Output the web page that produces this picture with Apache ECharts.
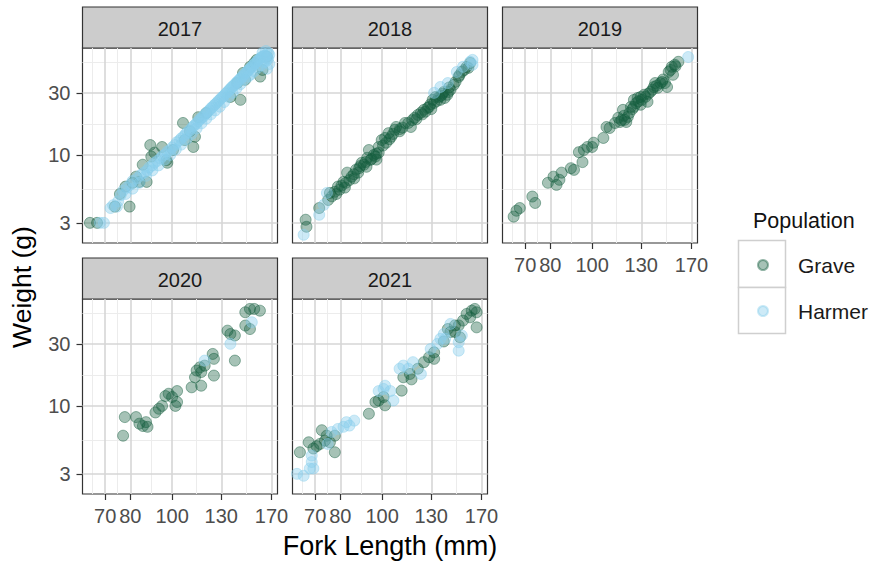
<!DOCTYPE html>
<html>
<head>
<meta charset="utf-8">
<script src="https://cdn.jsdelivr.net/npm/echarts@6/dist/echarts.min.js"></script>
<style>
html,body{margin:0;padding:0;background:#fff;}
#chart{width:873px;height:565px;}
</style>
</head>
<body>
<div id="chart"></div>
<script>
// ---- data: [fork length (mm), weight (g)] ----
const years = ['2017', '2018', '2019', '2020', '2021'];
const populations = ['Grave', 'Harmer'];
const xTicks = [70, 80, 100, 130, 170];
const xMinorTicks = [65.48, 74.83, 89.44, 114.02, 148.66];
const yTicks = [3, 10, 30];
const yMinorTicks = [5.477, 17.32, 51.96];
const xLimits = [62, 175.5];
const yLimits = [2.1, 66.4];

const grave2017 = [[64.5,3.0],[67,3.0],[73.7,4.0],[79.7,4.0],[75.7,5.0],[78,5.7],[81,6.1],[82.5,6.8],[85.5,8.4],[87.3,6.2],[84,6.2],[89,11.9],[89.5,9.7],[91,10.4],[94.8,11.5],[97,9.1],[97.5,8.7],[100.5,10.9],[106,17.6],[107,13.0],[112,11.5],[113,13.8],[110,15.2],[115,19.5],[120,21],[144,26.5],[136.5,27.9],[141.6,35.7],[147.6,37.8],[146,42.7],[151.6,47.6],[157,53.8],[155,51],[162,45],[160,40],[165.6,57]];
const harmer2017 = [[68,3.0],[69.5,3.0],[72,3.9],[73,4.1],[74.5,4.0],[76,4.9],[77,5.3],[78.5,5.6],[80,5.9],[81,6.3],[83,6.6],[84.5,7.0],[86,7.3],[87.5,7.6],[88.5,8.0],[90,8.3],[91,8.7],[92.5,9.0],[94,9.4],[95,9.8],[96.5,10.1],[97.5,10.6],[99,10.9],[100,11.4],[101.5,11.9],[102.5,12.5],[104,12.9],[105,13.4],[106.5,13.9],[107.5,14.5],[108.5,15.0],[110,15.4],[111,16.1],[112,16.6],[113,17.0],[114,17.6],[115,18.1],[116,18.8],[117,19.3],[118,19.6],[119,20.4],[120,20.9],[121,21.5],[122,22.0],[123,22.8],[124,23.3],[125,24.0],[126,24.6],[127,25.2],[128,26.0],[129,26.5],[130,27.4],[131,28.0],[132,28.6],[133,29.5],[134,30.2],[135,31.0],[136,31.8],[137,32.7],[138,33.5],[139,34.2],[140,35.0],[141,36.0],[142,36.8],[143,37.6],[144,38.6],[145,39.5],[146,40.4],[147,41.5],[148,42.4],[149,43.4],[150,44.5],[151,45.4],[152,46.5],[153,47.6],[154,48.6],[155,49.8],[156,51.0],[157,52.0],[158,53.0],[159,54.2],[160,55.3],[161,56.2],[162,57.0],[163,57.5],[164,58.0],[165,57.5],[166,56.0],[167,55.0],[165,52.5],[163,51.5],[161,49],[158,47],[155,44],[152,41.5],[150,40],[147,38],[144,35],[141,32.5],[138,30],[135,28],[132,25.5],[129,23.5],[126,22],[123,20.5],[120,19],[117,17.5],[114,16],[111,14.5],[108,13.2],[105,12],[102,11],[99,10],[96,9.2],[93,8.3],[90,7.6],[87,6.9],[84,6.1],[81,5.5],[78,5.0],[75,4.4],[168,59],[167,61],[165,63],[162,61],[168,50],[166,46]];

const grave2018 = [[66.5,3.17],[66.8,2.8],[71.5,3.9],[75,4.5],[75.7,5.1],[79.7,5.4],[82.5,6.1],[83,7.3],[86.2,6.6],[88.5,7.9],[89.7,8.7],[93.2,10.9],[94,9.15],[96.5,9.7],[98.2,10.4],[99.8,13],[102.2,12.4],[105,13.8],[107.8,16.4],[109.8,15.2],[115,17.6],[116.6,16.4],[121,20.3],[125,22.2],[128.5,23.4],[131,26.5],[133,27.9],[136.5,26.5],[139,30.5],[141.6,29],[150.5,39.8],[153,43.5],[160,51],[158.5,46.7],[77.7,5.2],[79,5.7],[81.4,6.2],[85,6.8],[87,7.7],[90.8,8.4],[92.4,9.5],[95.7,10],[98.2,11.5],[101.6,13.5],[103.5,14.7],[107,15.6],[113,17.6],[119,19.3],[123,21.1],[127.5,23],[132,25.1],[135.5,27.9],[139.6,27.4],[144,31.7],[146.6,34.6],[76.5,4.8],[78.3,5.0],[80.5,5.8],[82,5.6],[84,6.4],[86,7.1],[88,7.3],[89,8.2],[91.5,8.8],[92,8.1],[94.5,9.3],[97,9.2],[97,10.2],[100.5,11.8],[104,13.2],[106,14.5],[110,15.8],[111.5,16.2],[117.5,18.5],[120,18.8],[124,20.5],[126,21.5],[129.5,24.5],[130,22.5],[134,26],[137,28.5],[138,29.5],[142.5,30.5],[143,33],[148,36.5],[151,41],[155,45],[157,47.5]];
const harmer2018 = [[65.8,2.43],[71.5,3.46],[74.5,5.1],[73.3,4.13],[132,30],[136.5,33.3],[142,35.7],[149,43.5],[154,47.6],[160,52],[162,53.8],[162,49.3]];

const grave2019 = [[65.8,3.35],[66.8,3.72],[68,3.9],[72.7,4.78],[73.8,4.27],[79,6.1],[81.4,6.8],[82.7,5.88],[84,6.43],[85,7.3],[89.3,7.9],[90.8,7.67],[95,8.8],[95.7,10.9],[97.5,11.5],[100.8,12.4],[106.2,13.5],[108,16.4],[113,17.6],[116,17.9],[117.9,22.2],[115,19.3],[119,18.6],[121,19.6],[123,23.4],[125,26.5],[127.5,27.4],[129.6,24.3],[132,29],[134.4,25.6],[138,31.7],[140,35.7],[142,32.8],[145.3,36.5],[149.2,33.3],[150.5,43.5],[153,47.6],[155.5,49.3],[158.5,52],[154,41.3],[147.5,35.7],[125,23.4],[129.6,27.9],[139,33.3],[144,35.7],[120,17.9],[109.8,16.1],[100,11.5],[93.2,10.5],[117,18.5],[118.5,20],[122,21],[124,22.5],[126.5,25],[128,25.8],[130.5,26.5],[133,28],[135,29.5],[136.5,30.5],[141,34],[146,38],[152,45],[156,48]];
const harmer2019 = [[167,56.6]];

const grave2020 = [[77.7,8.2],[77,5.9],[82.5,8.2],[84,7.3],[85.6,7.0],[87,7.5],[87.7,6.9],[91.5,8.9],[93.2,9.5],[94.8,10],[96.5,11.9],[98.2,12.4],[100,11.7],[102.7,13],[102.7,10.7],[101.8,10],[111,13.9],[116.8,14.3],[113,16.6],[114,18.7],[116,19.8],[119,20.4],[124.2,25.1],[125,23],[125,17.1],[134.4,37.9],[136.5,35.7],[139.8,34.8],[139.8,22.3],[147.8,52.5],[151.5,55.7],[155,55.7],[159.8,54],[147.8,41.5],[151.5,39],[116.8,18.2]];
const harmer2020 = [[119,22.3],[136.5,30],[153,44]];

const grave2021 = [[64.5,4.4],[67.6,5.25],[70.5,4.9],[72.5,6.5],[74.4,5.9],[75.7,5.25],[77.7,4.4],[77.7,5.9],[71.8,5.1],[69.3,4.7],[73.7,5.4],[93.2,8.7],[96.5,10.7],[98.2,11.0],[101.6,10.1],[100.8,11.7],[111,13.1],[112,16.6],[116,17.6],[121,19.3],[125,21.7],[128.5,23.7],[132,25.8],[139,31.3],[142,39],[144,37],[147.5,37],[150.5,41.6],[151.5,33.7],[154,45.3],[157,51],[161.3,54],[164,55.7],[165.6,52.5],[165.6,40.2],[160,48],[147.5,41.6],[132,23],[117,16]];
const harmer2021 = [[63.5,3.0],[65.8,2.9],[68,3.3],[68.7,3.7],[68.7,4.15],[69.3,3.3],[79,6.65],[81.4,6.9],[82.7,7.5],[84,7.05],[86.2,7.7],[76.4,6.3],[74.8,5.1],[98.2,13],[100.8,13.5],[101.6,14.3],[104.5,13],[106.2,11],[109.8,19.3],[112,20.4],[115,19.3],[117.9,21.7],[123,17.6],[129.6,27.4],[134.4,30],[136.5,32.8],[140,32.8],[144,42.7],[150.5,26.6],[150.5,30.9],[139,35.7],[153,34.8]];

const dataByYear = {
  '2017': [grave2017, harmer2017],
  '2018': [grave2018, harmer2018],
  '2019': [grave2019, harmer2019],
  '2020': [grave2020, harmer2020],
  '2021': [grave2021, harmer2021]
};

// ---- layout / style ----
const FONT = "'Liberation Sans', Arial, Helvetica, sans-serif";
const PW = 195, PH = 195, STRIP = 41;
const layout = {
  '2017': {left: 82.5, top: 48, xLab: false, yLab: true},
  '2018': {left: 292.5, top: 48, xLab: false, yLab: false},
  '2019': {left: 502.5, top: 48, xLab: true, yLab: false},
  '2020': {left: 82.5, top: 299, xLab: true, yLab: true},
  '2021': {left: 292.5, top: 299, xLab: true, yLab: false}
};
const popStyle = {
  'Grave': {fill: 'rgba(21,94,63,0.38)', stroke: 'rgba(21,94,63,0.45)'},
  'Harmer': {fill: 'rgba(135,206,235,0.42)', stroke: 'rgba(135,206,235,0.45)'}
};

const grids = [], xAxes = [], yAxes = [], series = [], graphics = [];

years.forEach(function (yr, i) {
  const L = layout[yr];
  grids.push({
    left: L.left, top: L.top, width: PW, height: PH,
    show: true, backgroundColor: '#ffffff', borderColor: '#333333', borderWidth: 1.2,
    containLabel: false
  });
  // major x axis
  xAxes.push({
    type: 'log', logBase: 10, gridIndex: i, position: 'bottom',
    min: xLimits[0], max: xLimits[1],
    axisLine: {show: false},
    axisTick: {show: L.xLab, length: 6, customValues: xTicks, lineStyle: {color: '#333333', width: 1.2}},
    axisLabel: {show: L.xLab, customValues: xTicks, color: '#4d4d4d', fontSize: 20, fontFamily: FONT, margin: 12, hideOverlap: false},
    splitLine: {show: true, lineStyle: {color: '#d6d6d6', width: 1.6}},
    minorTick: {show: false}, minorSplitLine: {show: false}, z: 1
  });
  // minor x axis (grid lines only)
  xAxes.push({
    type: 'log', logBase: 10, gridIndex: i, position: 'top',
    min: xLimits[0], max: xLimits[1],
    axisLine: {show: false},
    axisTick: {show: false, customValues: xMinorTicks},
    axisLabel: {show: false, customValues: xMinorTicks},
    splitLine: {show: true, lineStyle: {color: '#ececec', width: 1}},
    z: 0
  });
  yAxes.push({
    type: 'log', logBase: 10, gridIndex: i, position: 'left',
    min: yLimits[0], max: yLimits[1],
    axisLine: {show: false},
    axisTick: {show: L.yLab, length: 6, customValues: yTicks, lineStyle: {color: '#333333', width: 1.2}},
    axisLabel: {show: L.yLab, customValues: yTicks, color: '#4d4d4d', fontSize: 20, fontFamily: FONT, margin: 12},
    splitLine: {show: true, lineStyle: {color: '#d6d6d6', width: 1.6}},
    minorTick: {show: false}, minorSplitLine: {show: false}, z: 1
  });
  yAxes.push({
    type: 'log', logBase: 10, gridIndex: i, position: 'right',
    min: yLimits[0], max: yLimits[1],
    axisLine: {show: false},
    axisTick: {show: false, customValues: yMinorTicks},
    axisLabel: {show: false, customValues: yMinorTicks},
    splitLine: {show: true, lineStyle: {color: '#ececec', width: 1}},
    z: 0
  });
  populations.forEach(function (pop, k) {
    series.push({
      type: 'scatter', name: pop,
      xAxisIndex: 2 * i, yAxisIndex: 2 * i,
      data: dataByYear[yr][k],
      symbol: 'circle', symbolSize: 11,
      itemStyle: {color: popStyle[pop].fill, borderColor: popStyle[pop].stroke, borderWidth: 1, opacity: 1},
      emphasis: {disabled: true},
      z: 3 + k
    });
  });
  // facet strip
  graphics.push({
    type: 'group', silent: true,
    children: [
      {type: 'rect', shape: {x: L.left, y: L.top - STRIP, width: PW, height: STRIP},
        style: {fill: '#cccccc', stroke: '#333333', lineWidth: 1.2}},
      {type: 'text', x: L.left + PW / 2, y: L.top - STRIP / 2 + 1,
        style: {text: yr, fontSize: 20, fontFamily: FONT, fill: '#1a1a1a', align: 'center', verticalAlign: 'middle'}}
    ]
  });
});

// axis titles
graphics.push({type: 'text', silent: true, x: 390, y: 546,
  style: {text: 'Fork Length (mm)', fontSize: 27, fontFamily: FONT, fill: '#000000', align: 'center', verticalAlign: 'middle'}});
graphics.push({type: 'text', silent: true, x: 22, y: 287, rotation: Math.PI / 2,
  style: {text: 'Weight (g)', fontSize: 26.5, fontFamily: FONT, fill: '#000000', align: 'center', verticalAlign: 'middle'}});
// legend title and key boxes
graphics.push({type: 'text', silent: true, x: 753, y: 221,
  style: {text: 'Population', fontSize: 21.5, fontFamily: FONT, fill: '#111111', align: 'left', verticalAlign: 'middle'}});
graphics.push({type: 'rect', silent: true, z: -1, shape: {x: 738.5, y: 240.5, width: 47, height: 47},
  style: {fill: '#ffffff', stroke: '#cfcfcf', lineWidth: 1.5}});
graphics.push({type: 'rect', silent: true, z: -1, shape: {x: 738.5, y: 287.5, width: 47, height: 46},
  style: {fill: '#ffffff', stroke: '#cfcfcf', lineWidth: 1.5}});

const chart = echarts.init(document.getElementById('chart'), null, {renderer: 'svg'});
chart.setOption({
  animation: false,
  backgroundColor: '#ffffff',
  textStyle: {fontFamily: FONT},
  grid: grids,
  xAxis: xAxes,
  yAxis: yAxes,
  legend: {
    data: populations, orient: 'vertical', left: 757, top: 254,
    itemWidth: 10, itemHeight: 10, itemGap: 24, padding: 0,
    selectedMode: false,
    textStyle: {fontSize: 21, fontFamily: FONT, color: '#1a1a1a', lineHeight: 22, padding: [0, 0, 0, 25]}
  },
  graphic: graphics,
  series: series
});
</script>
</body>
</html>
